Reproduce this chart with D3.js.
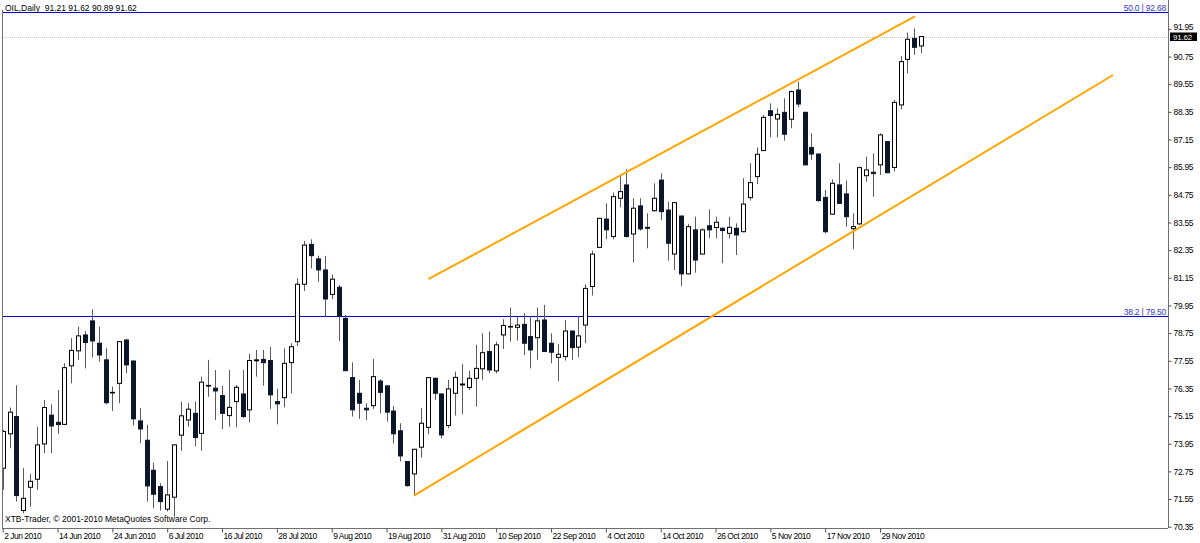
<!DOCTYPE html>
<html><head><meta charset="utf-8">
<script src="https://cdn.jsdelivr.net/npm/d3@7"></script>
<style>
html,body{margin:0;padding:0;background:#fff;}
svg{display:block;}
text{font-family:"Liberation Sans", Arial, sans-serif;}
</style></head><body>
<svg id="chart" width="1200" height="543"></svg>
<script>
const symbolHeader = "OIL,Daily  91.21 91.62 90.89 91.62";
const copyright = "XTB-Trader, \u00A9 2001-2010 MetaQuotes Software Corp.";
const tickBars = [0,8,16,24,32,40,48,56,64,72,80,88,96,104,112,120,128];
const tickLabels = ["2 Jun 2010","14 Jun 2010","24 Jun 2010","6 Jul 2010","16 Jul 2010","28 Jul 2010","9 Aug 2010","19 Aug 2010","31 Aug 2010","10 Sep 2010","22 Sep 2010","4 Oct 2010","14 Oct 2010","26 Oct 2010","5 Nov 2010","17 Nov 2010","29 Nov 2010"];
const priceTicks = [70.35,71.55,72.75,73.95,75.15,76.35,77.55,78.75,79.95,81.15,82.35,83.55,84.75,85.95,87.15,88.35,89.55,90.75,91.95];

const open = [72.89,74.38,75.13,71.05,72.06,72.41,73.94,75.19,74.88,74.79,77.33,77.98,78.67,79.28,78.31,77.59,76.17,76.57,78.45,77.54,
74.94,74.10,72.80,72.09,71.11,71.63,74.32,74.98,75.27,74.40,76.47,76.36,76.04,75.17,75.78,76.11,75.42,77.55,77.61,77.56,
75.78,75.95,77.47,78.38,80.87,82.60,81.97,81.49,80.43,80.74,79.39,76.82,76.14,75.49,75.60,76.67,76.46,75.37,74.51,73.18,
72.64,73.80,74.66,76.79,76.11,74.74,76.14,76.50,76.39,76.79,77.20,77.95,77.11,78.67,79.03,79.00,79.13,78.60,78.55,79.32,
78.31,77.70,77.73,78.84,78.14,79.10,80.77,82.47,83.70,82.94,84.60,85.18,83.05,84.27,83.34,84.06,85.39,84.09,82.18,83.83,
81.32,83.23,82.18,83.41,83.33,83.30,83.08,83.30,83.15,84.63,85.54,86.67,88.40,88.04,88.33,88.03,89.30,88.33,86.80,86.52,
84.64,83.91,85.18,84.79,83.28,83.49,85.58,85.73,86.05,87.06,85.94,88.65,90.63,91.54,91.21];
const high = [74.55,75.52,76.49,72.89,72.63,74.69,75.85,75.66,76.28,77.44,78.53,79.03,78.84,79.78,79.03,78.09,76.43,78.41,78.50,77.56,
75.49,74.77,73.13,72.24,73.20,73.92,75.78,75.71,75.78,76.86,77.59,77.15,76.46,77.15,76.50,77.15,77.85,78.02,78.02,78.16,
76.33,78.09,78.31,81.13,82.75,82.82,82.11,82.10,81.30,80.84,79.54,77.48,76.72,75.71,77.63,76.75,76.48,75.59,74.84,73.20,
73.73,75.49,76.84,76.82,76.13,76.72,77.08,77.40,77.11,78.24,78.74,78.82,78.38,79.35,79.86,79.47,79.61,79.49,79.86,79.97,
78.74,78.27,79.32,78.86,79.47,80.87,82.33,83.75,84.38,84.85,85.61,85.86,84.60,84.60,83.95,85.25,85.68,84.45,84.45,83.85,
83.49,83.80,83.30,84.12,83.80,83.34,83.80,83.51,85.47,86.12,86.81,88.22,88.72,88.50,88.94,89.27,89.66,88.35,87.42,86.55,
84.96,85.42,86.12,85.37,83.95,85.97,86.41,86.55,87.42,87.08,88.87,90.77,91.79,91.97,91.62];
const low = [71.95,73.75,71.44,70.93,71.22,71.95,73.54,73.54,74.38,74.75,76.57,77.59,77.22,77.69,77.51,75.66,75.37,75.71,77.01,74.74,
73.97,71.44,71.15,71.05,71.01,70.79,73.64,74.69,73.83,73.65,75.99,74.98,74.58,74.69,74.66,75.06,74.87,76.86,76.47,75.46,
74.79,75.53,76.14,78.19,80.58,81.56,80.98,79.47,80.23,78.41,77.10,75.13,75.03,74.98,75.46,75.27,74.91,73.97,73.18,72.09,
71.70,73.35,74.36,75.85,74.19,74.62,75.17,75.24,76.28,75.56,76.72,77.01,77.01,78.06,78.38,78.42,77.80,77.22,77.59,77.93,
77.44,76.67,77.56,77.59,77.70,78.31,80.38,82.45,82.82,82.82,84.21,82.91,81.81,83.20,82.43,84.02,83.66,81.89,81.49,80.80,
81.30,81.37,82.16,82.86,82.86,81.78,82.86,82.14,83.13,84.50,85.21,86.65,87.25,87.25,87.10,87.64,88.55,86.03,86.26,84.45,
83.08,83.88,84.35,83.37,82.39,83.44,85.32,84.67,85.61,85.69,85.76,88.46,90.02,90.82,90.89];
const close = [74.48,75.32,71.70,71.58,72.32,73.90,75.52,74.72,74.78,77.25,78.00,78.63,78.34,78.41,77.80,75.73,76.18,78.38,77.37,75.03,
74.59,72.12,71.76,71.44,71.73,73.90,75.16,75.45,74.22,76.62,76.48,76.24,75.27,75.53,76.40,75.13,77.56,77.59,77.47,76.07,
75.68,77.44,78.16,80.87,82.57,82.11,81.49,80.23,81.09,79.49,77.12,75.42,75.71,75.42,76.86,76.18,75.32,74.38,73.42,72.13,
73.71,74.84,76.82,76.14,74.33,76.33,76.83,76.54,76.79,77.22,77.90,77.15,78.24,79.08,79.04,79.10,78.31,78.02,79.28,77.95,
77.92,77.83,78.84,78.12,78.63,80.69,82.18,83.73,83.23,84.67,84.89,82.94,84.17,83.27,83.30,84.60,84.02,82.65,84.41,81.32,
83.37,81.92,83.23,83.23,83.56,83.20,83.34,83.01,84.35,85.28,86.51,88.11,88.19,88.24,87.38,89.23,88.69,86.05,86.52,84.50,
83.15,85.25,84.38,83.80,83.37,85.93,85.83,85.67,87.35,85.71,88.76,90.53,91.50,91.15,91.62];

const fibLevels = [92.68, 79.50];
const fibLabels = ["50.0 | 92.68", "38.2 | 79.50"];
const upperLineBars = [62.1, 133.1];
const upperLinePrices = [81.09, 92.49];
const lowerLineBars = [60, 162];
const lowerLinePrices = [71.70, 89.95];
const lastPrice = 91.62;

const svg = d3.select("#chart");
const W = 1200, H = 543;
const plotL = 2, plotR = 1168, plotT = 0, plotB = 528;

svg.append("rect").attr("width", W).attr("height", H).attr("fill", "#ffffff");

const x = d3.scaleLinear().domain([0, 134]).range([2.7, 2.7 + 134 * 6.854]);
const y = d3.scaleLinear().domain([70.35, 91.95]).range([526.7, 28.9]);

svg.append("clipPath").attr("id", "plotclip")
  .append("rect").attr("x", plotL + 1).attr("y", plotT).attr("width", plotR - plotL - 1).attr("height", plotB - plotT);

const plot = svg.append("g").attr("clip-path", "url(#plotclip)");

// fibonacci levels
fibLevels.forEach((lv, k) => {
  const yy = Math.round(y(lv)) + 0.5;
  plot.append("line").attr("x1", plotL).attr("x2", plotR).attr("y1", yy).attr("y2", yy)
    .attr("stroke", "#0000d0").attr("stroke-width", 1);
  svg.append("text").attr("x", plotR - 2).attr("y", yy - 2).attr("text-anchor", "end")
    .attr("font-size", "8.5px").attr("letter-spacing", "-0.2px").attr("fill", "#3535c8").text(fibLabels[k]);
});

// current price line
const lp = Math.round(y(lastPrice)) + 0.5;
plot.append("line").attr("x1", plotL).attr("x2", plotR).attr("y1", lp).attr("y2", lp)
  .attr("stroke", "#c8c8c8").attr("stroke-width", 1).attr("stroke-dasharray", "1,1");

// candles
const idx = d3.range(open.length);
const cg = plot.append("g");
cg.selectAll("line.wick").data(idx).join("line").attr("class", "wick")
  .attr("x1", i => Math.round(x(i)) + 0.5).attr("x2", i => Math.round(x(i)) + 0.5)
  .attr("y1", i => y(high[i])).attr("y2", i => y(low[i]))
  .attr("stroke", "#5a5a5a").attr("stroke-width", 1);
cg.selectAll("rect.body").data(idx).join("rect").attr("class", "body")
  .attr("x", i => Math.round(x(i)) - 1.5)
  .attr("width", 4)
  .attr("y", i => Math.min(y(open[i]), y(close[i])))
  .attr("height", i => Math.max(Math.abs(y(open[i]) - y(close[i])), 0.6))
  .attr("fill", i => close[i] >= open[i] ? "#ffffff" : "#0b162b")
  .attr("stroke", i => close[i] >= open[i] ? "#000000" : "#0b162b")
  .attr("stroke-width", 1);

// trend lines
const tl = d3.line().x(d => x(d[0])).y(d => y(d[1]));
plot.append("path").attr("d", tl(upperLineBars.map((b, k) => [b, upperLinePrices[k]])))
  .attr("fill", "none").attr("stroke", "#ffa500").attr("stroke-width", 2);
plot.append("path").attr("d", tl(lowerLineBars.map((b, k) => [b, lowerLinePrices[k]])))
  .attr("fill", "none").attr("stroke", "#ffa500").attr("stroke-width", 2);

// frame
svg.append("line").attr("x1", plotL + 0.5).attr("x2", plotL + 0.5).attr("y1", 10).attr("y2", plotB)
  .attr("stroke", "#707070");

// right axis
const yAxis = d3.axisRight(y).tickValues(priceTicks).tickFormat(d3.format(".2f")).tickSize(3).tickPadding(2);
const ya = svg.append("g").attr("transform", `translate(${plotR + 0.5},0)`).call(yAxis);
ya.select(".domain").attr("d", `M0,${plotT}V${plotB}`).attr("stroke", "#707070");
ya.selectAll(".tick line").attr("stroke", "#505050");
ya.selectAll(".tick text").attr("font-size", "8.5px").attr("letter-spacing", "-0.3px").attr("fill", "#000")
  .attr("font-family", "Liberation Sans, Arial, sans-serif");
// top tick label sits just above the last-price marker, as in the reference
ya.selectAll(".tick").filter(d => d === 91.95).select("text").attr("dy", "0.1em");

// last price marker
const lbl = svg.append("g").attr("transform", `translate(${plotR + 2},${y(lastPrice)})`);
lbl.append("rect").attr("x", 0).attr("y", -4).attr("width", 27).attr("height", 8.5).attr("fill", "#000");
lbl.append("text").attr("x", 3).attr("y", 3).attr("font-size", "8px").attr("letter-spacing", "-0.2px").attr("fill", "#fff").text(d3.format(".2f")(lastPrice));

// bottom axis
const xAxis = d3.axisBottom(x).tickValues(tickBars).tickFormat((d, k) => tickLabels[k]).tickSize(4).tickPadding(2);
const xa = svg.append("g").attr("transform", `translate(0,${plotB + 0.5})`).call(xAxis);
xa.select(".domain").attr("d", `M${plotL},0H${plotR}`).attr("stroke", "#707070");
xa.selectAll(".tick line").attr("stroke", "#505050");
xa.selectAll(".tick text").attr("text-anchor", "start").attr("dx", "1px").attr("dy", "0.55em")
  .attr("font-size", "8.5px").attr("letter-spacing", "-0.5px").attr("fill", "#000")
  .attr("font-family", "Liberation Sans, Arial, sans-serif");

// header and copyright
svg.append("text").attr("x", 5).attr("y", 10.5).attr("font-size", "8.5px").attr("fill", "#000").text(symbolHeader)
  .attr("xml:space", "preserve").style("white-space", "pre");
svg.append("text").attr("x", 5).attr("y", 522).attr("font-size", "8.5px").attr("fill", "#000").text(copyright);
</script>
</body></html>
